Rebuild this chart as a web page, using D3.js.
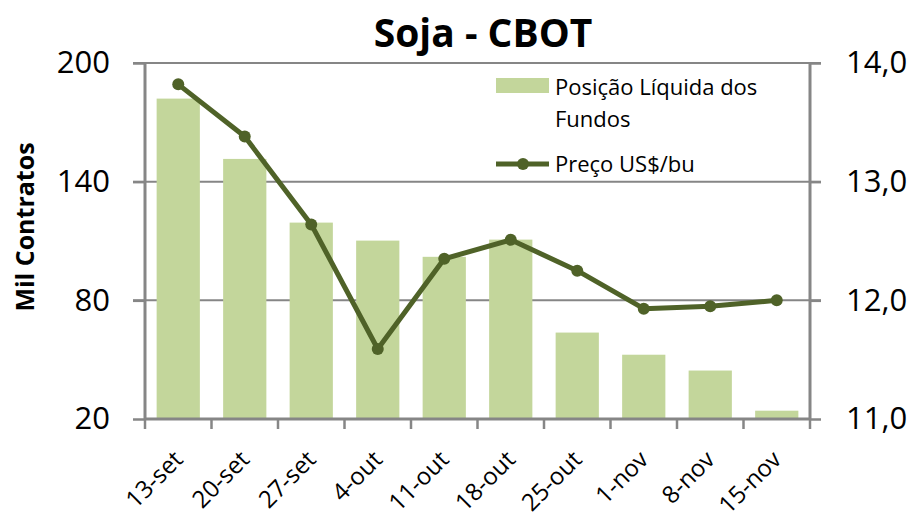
<!DOCTYPE html>
<html>
<head>
<meta charset="utf-8">
<script src="https://cdn.jsdelivr.net/npm/d3@7"></script>
<style>
  body { margin: 0; background: #fff; }
  svg { display: block; font-family: "Open Sans", sans-serif; }
</style>
</head>
<body>
<figure style="margin:0"></figure>
<script>
var W = 917, H = 520;

// data
var weeks = ["13-set", "20-set", "27-set", "4-out", "11-out", "18-out", "25-out", "1-nov", "8-nov", "15-nov"];
var posicao = [182, 151.5, 119.3, 110.2, 102, 110.7, 63.7, 52.5, 44.5, 24.2];
var preco = [13.82, 13.38, 12.64, 11.59, 12.35, 12.51, 12.25, 11.93, 11.95, 12.0];
var leftTicks = [20, 80, 140, 200];
var rightTicks = [11, 12, 13, 14];

var margin = {top: 63, right: 107, bottom: 101, left: 145},
    width = W - margin.left - margin.right,
    height = H - margin.top - margin.bottom;

var svg = d3.select("figure").append("svg")
    .attr("width", W)
    .attr("height", H);

var g = svg.append("g")
    .attr("transform", "translate(" + margin.left + "," + margin.top + ")");

var x = d3.scaleBand().domain(weeks).range([0, width]).paddingInner(0.35).paddingOuter(0.175);
var xTick = d3.scaleBand().domain(weeks).range([0, width]);
var y = d3.scaleLinear().domain([20, 200]).range([height, 0]);
var y2 = d3.scaleLinear().domain([11, 14]).range([height, 0]);

var grey = "#868686";

// gridlines
g.append("g")
    .selectAll("line")
    .data(leftTicks.slice(1))
    .join("line")
    .attr("x1", -12).attr("x2", width + 11)
    .attr("y1", function(d) { return y(d); })
    .attr("y2", function(d) { return y(d); })
    .attr("stroke", grey).attr("stroke-width", 2);

// bars
g.append("g")
    .selectAll("rect")
    .data(posicao)
    .join("rect")
    .attr("x", function(d, i) { return x(weeks[i]); })
    .attr("width", x.bandwidth())
    .attr("y", function(d) { return y(d); })
    .attr("height", function(d) { return height - y(d); })
    .attr("fill", "#c3d69b");

// axes
var yAxis = d3.axisLeft(y).tickValues(leftTicks).tickSize(12).tickPadding(23);
var yAxis2 = d3.axisRight(y2).tickValues(rightTicks).tickSize(11).tickPadding(25)
    .tickFormat(function(d) { return d3.format(".1f")(d).replace(".", ","); });
var xAxis = d3.axisBottom(xTick).tickSize(10).tickFormat("");

var ay = g.append("g").call(yAxis);
var ay2 = g.append("g").attr("transform", "translate(" + width + ",0)").call(yAxis2);
var ax = g.append("g").attr("transform", "translate(0," + height + ")").call(xAxis);

// x ticks at band edges
ax.selectAll(".tick").remove();
ax.selectAll(".edge")
    .data(weeks.concat(["end"]))
    .join("line")
    .attr("x1", function(d, i) { return i * xTick.step(); })
    .attr("x2", function(d, i) { return i * xTick.step(); })
    .attr("y1", 0).attr("y2", 10)
    .attr("stroke", grey).attr("stroke-width", 2.5);

[ay, ay2, ax].forEach(function(a) {
    a.select(".domain").attr("stroke", grey).attr("stroke-width", 3);
    a.selectAll(".tick line").attr("stroke", grey).attr("stroke-width", 2.5);
    a.selectAll(".tick text").attr("fill", "#000").style("font-size", "31px")
        .style("font-family", "'Open Sans', sans-serif");
});
ax.select(".domain").attr("d", "M0,0H" + width);
ay.select(".domain").attr("d", "M0,0V" + height);
ay2.select(".domain").attr("d", "M0,0V" + height);

// x labels rotated
g.append("g")
    .selectAll("text")
    .data(weeks)
    .join("text")
    .attr("transform", function(d) {
        return "translate(" + (x(d) + x.bandwidth() / 2 + 6) + "," + (height + 42) + ") rotate(-45)";
    })
    .attr("text-anchor", "end")
    .style("font-size", "24px")
    .text(function(d) { return d; });

// price line
var line = d3.line()
    .x(function(d, i) { return x(weeks[i]) + x.bandwidth() / 2; })
    .y(function(d) { return y2(d); });

g.append("path")
    .datum(preco)
    .attr("d", line)
    .attr("fill", "none")
    .attr("stroke", "#4f6228")
    .attr("stroke-width", 5)
    .attr("stroke-linejoin", "round");

g.append("g")
    .selectAll("circle")
    .data(preco)
    .join("circle")
    .attr("cx", function(d, i) { return x(weeks[i]) + x.bandwidth() / 2; })
    .attr("cy", function(d) { return y2(d); })
    .attr("r", 6)
    .attr("fill", "#4f6228");

// title
svg.append("text")
    .attr("x", 483).attr("y", 47)
    .attr("text-anchor", "middle")
    .style("font-size", "39px").style("font-weight", "bold")
    .text("Soja - CBOT");

// y axis title
svg.append("text")
    .attr("transform", "translate(34,227) rotate(-90)")
    .attr("text-anchor", "middle")
    .style("font-size", "25px").style("font-weight", "bold")
    .text("Mil Contratos");

// legend
var leg = svg.append("g");
leg.append("rect")
    .attr("x", 496).attr("y", 78).attr("width", 53).attr("height", 15)
    .attr("fill", "#c3d69b");
leg.append("text").attr("x", 555).attr("y", 95).style("font-size", "22px").text("Posição Líquida dos");
leg.append("text").attr("x", 555).attr("y", 127).style("font-size", "22px").text("Fundos");
leg.append("line")
    .attr("x1", 496).attr("x2", 549).attr("y1", 164).attr("y2", 164)
    .attr("stroke", "#4f6228").attr("stroke-width", 5);
leg.append("circle").attr("cx", 523).attr("cy", 164).attr("r", 6).attr("fill", "#4f6228");
leg.append("text").attr("x", 555).attr("y", 172).style("font-size", "22px").text("Preço US$/bu");
</script>
</body>
</html>
